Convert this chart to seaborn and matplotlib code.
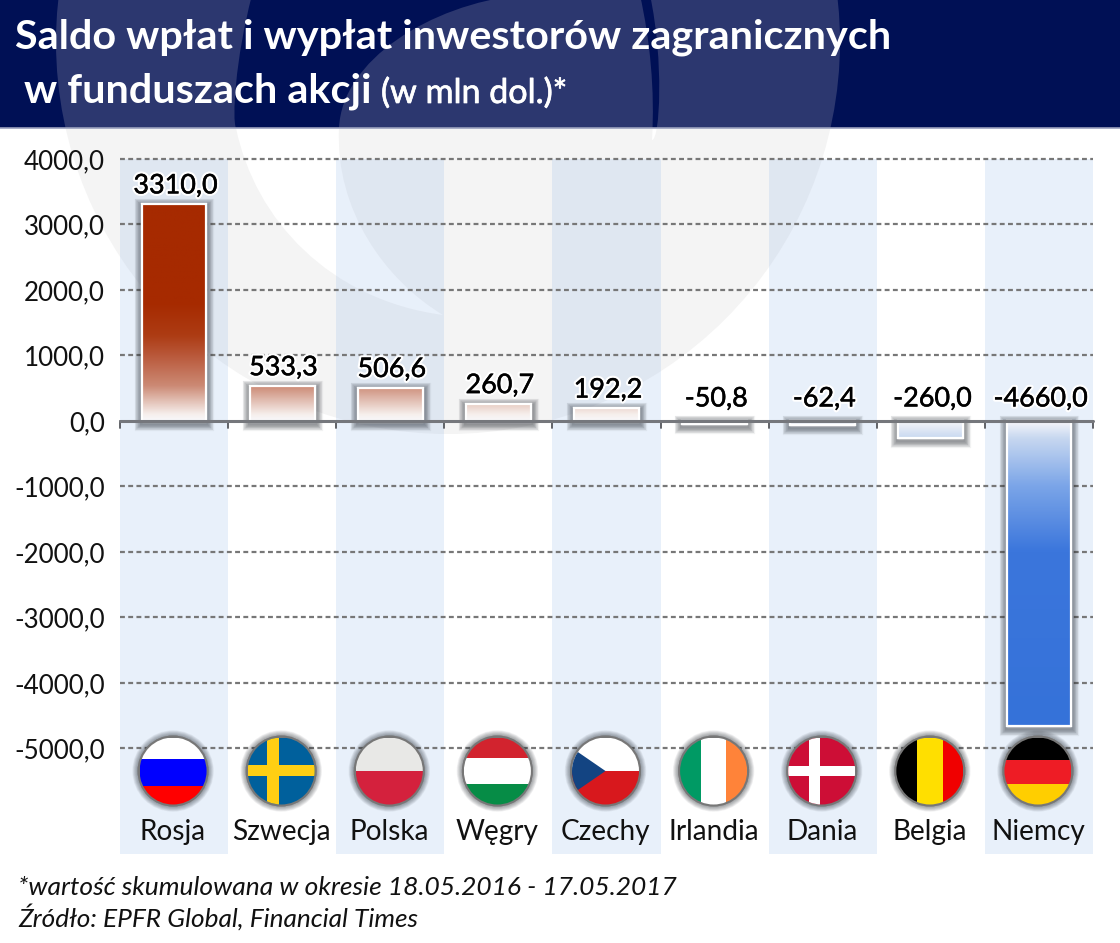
import numpy as np
import pandas as pd
import matplotlib
matplotlib.use('Agg')
import matplotlib.pyplot as plt
import matplotlib.patheffects as pe
from matplotlib.colors import LinearSegmentedColormap, Normalize
from matplotlib.patches import Circle, Rectangle, Polygon, PathPatch
from matplotlib.path import Path
import seaborn as sns

krajs = ['Rosja', 'Szwecja', 'Polska', 'Węgry', 'Czechy', 'Irlandia', 'Dania', 'Belgia', 'Niemcy']
saldo = [3310.0, 533.3, 506.6, 260.7, 192.2, -50.8, -62.4, -260.0, -4660.0]
yticks = [4000, 3000, 2000, 1000, 0, -1000, -2000, -3000, -4000, -5000]

# paski flag: x0, y0, x1, y1 w ukladzie kola (-1..1, y w dol)
flagi = {
    'Rosja': [(-1, -1, 1, -.36, '#ffffff'), (-1, -.36, 1, .44, '#0000ff'), (-1, .44, 1, 1, '#ff0000')],
    'Szwecja': [(-1, -1, 1, 1, '#00609c'), (-.42, -1, -.06, 1, '#ffcf13'), (-1, -.17, 1, .16, '#ffcf13')],
    'Polska': [(-1, -1, 1, 0, '#e8e8e6'), (-1, 0, 1, 1, '#d4213d')],
    'Węgry': [(-1, -1, 1, -.38, '#d2232e'), (-1, -.38, 1, .4, '#ffffff'), (-1, .4, 1, 1, '#068c46')],
    'Czechy': [(-1, -1, 1, 0, '#ffffff'), (-1, 0, 1, 1, '#d8181d')],
    'Irlandia': [(-1, -1, -.39, 1, '#009a64'), (-.39, -1, .38, 1, '#ffffff'), (.38, -1, 1, 1, '#ff8339')],
    'Dania': [(-1, -1, 1, 1, '#cd0e36'), (-.37, -1, -.05, 1, '#ffffff'), (-1, -.15, 1, .16, '#ffffff')],
    'Belgia': [(-1, -1, -.39, 1, '#000000'), (-.39, -1, .4, 1, '#ffdf00'), (.4, -1, 1, 1, '#f00000')],
    'Niemcy': [(-1, -1, 1, -.34, '#000000'), (-1, -.34, 1, .4, '#ee1c25'), (-1, .4, 1, 1, '#ffce00')],
}

sns.set_style('white')
plt.rcParams['font.family'] = ['Lato', 'DejaVu Sans']

W, H = 1120, 943
fig = plt.figure(figsize=(W / 100, H / 100), dpi=100, facecolor='white')


def px_axes(zorder):
    a = fig.add_axes([0, 0, 1, 1], zorder=zorder)
    a.set_xlim(0, W)
    a.set_ylim(H, 0)
    a.axis('off')
    a.patch.set_alpha(0)
    return a


# tlo: naglowek i znak wodny
bg = px_axes(0)


def znak(kolor_kolo, kolor_dziura, y0, y1):
    clip = Rectangle((0, y0), W, y1 - y0, transform=bg.transData)
    kolo = Circle((448, 42), 392, fc=kolor_kolo, ec='none', zorder=2)
    bg.add_patch(kolo)
    kolo.set_clip_path(clip)
    verts = [(252, -5), (235, 60), (232, 120), (236, 128), (255, 220), (330, 300), (443, 315),
             (385, 280), (335, 210), (339, 128), (342, 60), (430, 5), (520, -5), (252, -5)]
    codes = [Path.MOVETO] + [Path.CURVE4] * 12 + [Path.CLOSEPOLY]
    dziura = PathPatch(Path(verts, codes), fc=kolor_dziura, ec='none', zorder=3)
    bg.add_patch(dziura)
    dziura.set_clip_path(clip)
    verts2 = [(640, -5), (650, 40), (655, 90), (652, 140), (660, 140), (664, 60), (650, -5), (640, -5)]
    codes2 = [Path.MOVETO] + [Path.CURVE4] * 6 + [Path.CLOSEPOLY]
    sierp = PathPatch(Path(verts2, codes2), fc=kolor_dziura, ec='none', zorder=3)
    bg.add_patch(sierp)
    sierp.set_clip_path(clip)


bg.add_patch(Rectangle((0, 0), W, 128, fc='#001055', ec='none', zorder=1))
znak('#2c376f', '#001055', 0, 128)
znak('#f4f4f4', '#ffffff', 128, 440)
bg.plot([0, W], [128, 128], color='#9aa0bd', lw=1.2, zorder=4)

# wykres
left, right, top, bottom = 120, 1093, 159, 854
ax = fig.add_axes([left / W, 1 - bottom / H, (right - left) / W, (bottom - top) / H], zorder=1)
ax.patch.set_alpha(0)

df = pd.DataFrame({'kraj': krajs, 'saldo': saldo})
sns.barplot(data=df, x='kraj', y='saldo', order=krajs, color='white', saturation=1,
            width=0.6, edgecolor='white', linewidth=1.6, zorder=4, ax=ax)
ax.set_xlim(-0.5, 8.5)
ax.set_ylim(-6611, 4000)

for i in range(0, len(krajs), 2):
    ax.axvspan(i - 0.5, i + 0.5, color='#8fb4e6', alpha=0.2, lw=0, zorder=1)
for v in yticks:
    if v != 0:
        ax.axhline(v, color='#777777', lw=1.6, ls=(0, (2.2, 1.5)), zorder=2, clip_on=False)

# gradient slupkow
stops = [(-4660, '#3572d9'), (-2000, '#3b76dc'), (-1000, '#7ba5e8'), (-260, '#c8d8f0'), (0, '#f8f8fb'),
         (100, '#f6efec'), (533, '#cc8a75'), (1000, '#b9583a'), (1300, '#ad3c14'), (1800, '#a62a00'), (3310, '#a62a00')]
cmap = LinearSegmentedColormap.from_list('saldo', [((v + 4660) / 7970, c) for v, c in stops], N=2048)
norm = Normalize(-4660, 3310)
cien = [pe.Stroke(linewidth=lw, foreground='#20242c', alpha=0.06, offset=(0, -1.5))
        for lw in np.arange(11, 2, -0.9)] + [pe.Normal()]
for bar, v in zip(ax.containers[0], saldo):
    bar.set_path_effects(cien)
    x0, x1 = bar.get_x(), bar.get_x() + bar.get_width()
    lo, hi = min(v, 0), max(v, 0)
    ax.imshow(np.linspace(hi, lo, 256).reshape(-1, 1), cmap=cmap, norm=norm, aspect='auto',
              extent=(x0, x1, lo, hi), origin='upper', zorder=5)
    ax.add_patch(Rectangle((x0, lo), x1 - x0, hi - lo, fc='none', ec='white', lw=1.6, zorder=6))
ax.set_xlim(-0.5, 8.5)
ax.set_ylim(-6611, 4000)

ax.axhline(0, color='#75777c', lw=2.2, zorder=7, clip_on=False)
for x in np.arange(-0.5, 9):
    ax.plot([x, x], [0, -100], color='#55575c', lw=1.3, zorder=3, clip_on=False)

# etykiety wartosci
for i, v in enumerate(saldo):
    ax.annotate(f'{v:.1f}'.replace('.', ','), xy=(i, max(v, 0)), xytext=(1, 7.8 if v > 0 else 10.5),
                textcoords='offset points', ha='center', va='baseline', fontsize=19.4,
                color='black', zorder=8,
                path_effects=[pe.Stroke(linewidth=3.4, foreground='white'),
                              pe.Stroke(linewidth=0.35, foreground='black'), pe.Normal()])

ax.set_yticks(yticks)
ax.set_yticklabels([f'{v:.1f}'.replace('.', ',') for v in yticks], fontsize=18.7, color='#111111')
ax.set_xticks([])
ax.set_xlabel('')
ax.set_ylabel('')
ax.tick_params(axis='y', length=0, pad=11)
sns.despine(ax=ax, left=True, bottom=True)

# flagi i nazwy krajow
fg = px_axes(2)
cx = [left + (i + 0.5) * (right - left) / len(krajs) - 1 for i in range(len(krajs))]
cy, r = 771, 33.5
for x, k in zip(cx, krajs):
    fg.add_patch(Circle((x, cy), r + 2, fc='#777777', ec='none', zorder=2, path_effects=[
        pe.Stroke(linewidth=w, foreground='#20242c', alpha=0.05) for w in np.arange(7.5, 1, -0.8)] + [pe.Normal()]))
    clip = Circle((x, cy), r, transform=fg.transData)
    for x0, y0, x1, y1, c in flagi[k]:
        s = Rectangle((x + x0 * r, cy + y0 * r), (x1 - x0) * r, (y1 - y0) * r, fc=c, ec='none', zorder=3)
        fg.add_patch(s)
        s.set_clip_path(clip)
    if k == 'Czechy':
        t = Polygon([(x, cy), (x - 1.6 * r, cy - 1.1 * r), (x - 1.6 * r, cy + 1.1 * r)], fc='#134482', ec='none', zorder=4)
        fg.add_patch(t)
        t.set_clip_path(clip)
    fg.text(x, 840, k, ha='center', va='baseline', fontsize=20.2, color='#111111')

# tytul i stopka
fg.text(15, 48, 'Saldo wpłat i wypłat inwestorów zagranicznych', color='white', fontsize=29.8, fontweight='bold', va='baseline')
fg.text(24, 103, 'w funduszach akcji', color='white', fontsize=29.8, fontweight='bold', va='baseline')
fg.text(381, 103, '(w mln dol.)*', color='white', fontsize=24.5, va='baseline',
        path_effects=[pe.withStroke(linewidth=0.5, foreground='white')])
fg.text(18, 895, '*wartość skumulowana w okresie 18.05.2016 - 17.05.2017', fontsize=19, style='italic', color='#111111', va='baseline')
fg.text(18, 927, 'Źródło: EPFR Global, Financial Times', fontsize=18.95, style='italic', color='#111111', va='baseline')

fig.savefig('out.png', dpi=100)
